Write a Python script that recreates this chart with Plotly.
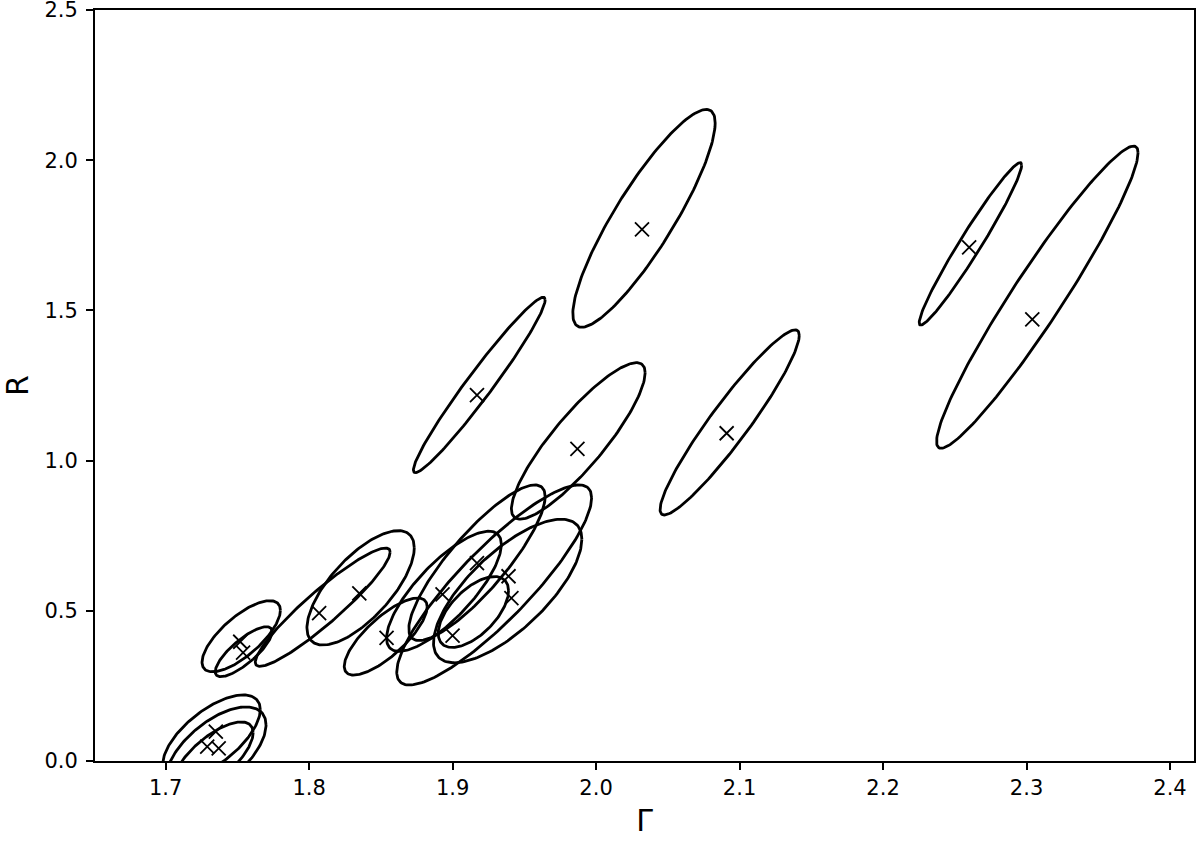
import numpy as np
import plotly.graph_objects as go

# best-fit points (photon index, reflection fraction)
gamma_best = [2.032, 1.917, 1.987, 2.091, 2.260, 2.304, 1.939, 1.941, 1.917, 1.893,
              1.900, 1.854, 1.835, 1.807, 1.752, 1.754, 1.735, 1.729, 1.737]
r_best = [1.770, 1.218, 1.039, 1.091, 1.710, 1.470, 0.615, 0.542, 0.659, 0.555,
          0.417, 0.410, 0.558, 0.492, 0.397, 0.361, 0.098, 0.048, 0.042]

# confidence contours: centre, half-extent in each parameter, correlation
cont_gamma = [2.0334, 1.9186, 1.9876, 2.0931, 2.2609, 2.3075, 1.9290, 1.9384, 1.9170, 1.8940,
              1.9145, 1.8534, 1.8359, 1.8095, 1.7527, 1.7544, 1.7320, 1.7350, 1.7330]
cont_r = [1.8065, 1.2518, 1.0655, 1.1270, 1.7215, 1.5440, 0.5860, 0.5660, 0.6600, 0.5650,
          0.4960, 0.4143, 0.5764, 0.5120, 0.4153, 0.3638, 0.0800, 0.0300, 0.0100]
cont_dgamma = [0.0496, 0.0459, 0.0466, 0.0485, 0.0357, 0.0702, 0.0679, 0.0517, 0.0475, 0.0400,
               0.0245, 0.0289, 0.0374, 0.0470, 0.0273, 0.0198, 0.0340, 0.0350, 0.0280]
cont_dr = [0.3625, 0.2918, 0.2605, 0.3080, 0.2705, 0.5030, 0.3330, 0.2390, 0.2590, 0.2000,
           0.1180, 0.1283, 0.1904, 0.1970, 0.1183, 0.0832, 0.1400, 0.1500, 0.1200]
cont_rho = [0.875, 0.97, 0.87, 0.94, 0.97, 0.955, 0.87, 0.72, 0.85, 0.78,
            0.60, 0.77, 0.70, 0.93, 0.73, 0.80, 0.65, 0.60, 0.70]

t = np.linspace(0, 2 * np.pi, 181)
xs, ys = [], []
for cx, cy, sx, sy, rho in zip(cont_gamma, cont_r, cont_dgamma, cont_dr, cont_rho):
    xs += list(cx + sx * np.cos(t)) + [None]
    ys += list(cy + sy * (rho * np.cos(t) + np.sqrt(1 - rho ** 2) * np.sin(t))) + [None]

fig = go.Figure()

fig.add_trace(
    go.Scatter(
        x=xs,
        y=ys,
        mode="lines",
        line=dict(color="black", width=2.8),
        hoverinfo="skip"
    )
)

fig.add_trace(
    go.Scatter(
        x=gamma_best,
        y=r_best,
        mode="markers",
        marker=dict(symbol="x-thin", size=14, line=dict(color="black", width=1.8))
    )
)

axis_style = dict(
    showline=True,
    linecolor="black",
    linewidth=2,
    mirror=True,
    ticks="outside",
    ticklen=7,
    tickwidth=2,
    tickcolor="black",
    showgrid=False,
    zeroline=False,
    automargin=False,
    ticklabeloverflow="allow",
    tickfont=dict(size=21, color="black")
)

fig.update_layout(
    width=1200,
    height=843,
    margin=dict(l=95, r=6, t=10, b=82),
    plot_bgcolor="white",
    paper_bgcolor="white",
    font=dict(family="DejaVu Sans", color="black"),
    showlegend=False,
    xaxis=dict(
        axis_style,
        range=[1.6508, 2.4167],
        tickvals=[1.7, 1.8, 1.9, 2.0, 2.1, 2.2, 2.3, 2.4],
        ticktext=["1.7", "1.8", "1.9", "2.0", "2.1", "2.2", "2.3", "2.4"],
        title=dict(text="Γ", font=dict(size=30), standoff=11)
    ),
    yaxis=dict(
        axis_style,
        range=[0, 2.5],
        tickvals=[0, 0.5, 1.0, 1.5, 2.0, 2.5],
        ticktext=["0.0", "0.5", "1.0", "1.5", "2.0", "2.5"],
        ticklabelstandoff=4,
        title=dict(text="R", font=dict(size=30), standoff=14)
    )
)

fig.write_html(
    "out.html",
    config={"displayModeBar": False},
    post_script="document.body.style.margin='0px';"
)
